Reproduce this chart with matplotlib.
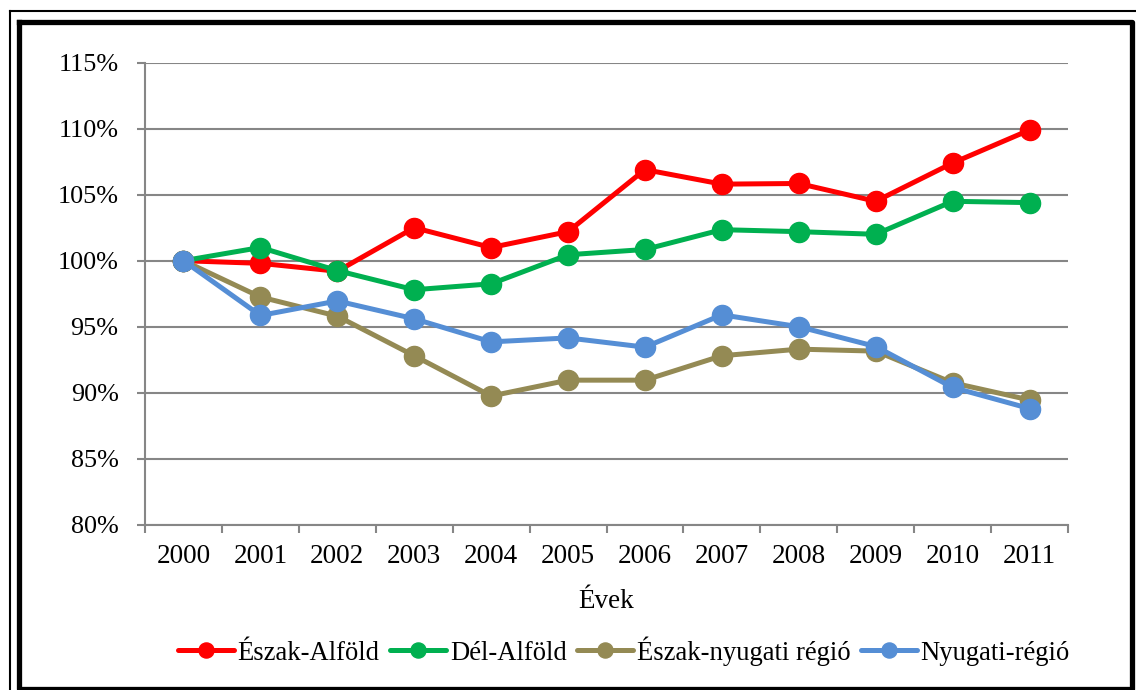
import matplotlib.pyplot as plt
from matplotlib.lines import Line2D
from matplotlib.ticker import FuncFormatter, MultipleLocator, FixedLocator

plt.rcParams['font.family'] = ['Liberation Serif', 'DejaVu Serif']

years = ['2000', '2001', '2002', '2003', '2004', '2005',
         '2006', '2007', '2008', '2009', '2010', '2011']
eszak_alfold = [100, 99.8, 99.2, 102.5, 101.0, 102.2, 106.9, 105.8, 105.85, 104.5, 107.4, 109.9]
del_alfold = [100, 101.0, 99.25, 97.8, 98.25, 100.45, 100.85, 102.35, 102.2, 102.0, 104.5, 104.4]
eszak_nyugati = [100, 97.25, 95.8, 92.8, 89.75, 90.95, 90.95, 92.8, 93.3, 93.15, 90.75, 89.45]
nyugati = [100, 95.85, 96.95, 95.6, 93.85, 94.15, 93.45, 95.9, 95.0, 93.5, 90.4, 88.8]

series = [
    ('Észak-Alföld', eszak_alfold, '#FF0000'),
    ('Dél-Alföld', del_alfold, '#00B050'),
    ('Észak-nyugati régió', eszak_nyugati, '#948A54'),
    ('Nyugati-régió', nyugati, '#558ED5'),
]

W, H = 1136, 690
FS = 19.5
fig = plt.figure(figsize=(W / 100, H / 100), dpi=100)
ax = fig.add_axes([145 / W, 1 - 524.7 / H, (1068 - 145) / W, (524.7 - 62.7) / H])

x = list(range(len(years)))
for name, vals, col in series:
    ax.plot(x, vals, color=col, lw=3.6, marker='o', ms=14.5, label=name,
            solid_capstyle='round', clip_on=False)

grid_col = '#868686'
ax.set_xlim(-0.5, len(years) - 0.5)
ax.set_ylim(80, 115)
ax.yaxis.set_major_locator(MultipleLocator(5))
ax.yaxis.set_major_formatter(FuncFormatter(lambda v, p: f'{v:.0f}%'))
ax.grid(axis='y', color=grid_col, lw=1.5)
ax.set_axisbelow(True)

ax.set_xticks(x)
ax.set_xticklabels(years)
ax.xaxis.set_minor_locator(FixedLocator([i - 0.5 for i in range(len(years) + 1)]))
ax.tick_params(axis='x', which='major', length=0, pad=14, labelsize=FS)
ax.tick_params(axis='x', which='minor', length=6, width=1.5, color=grid_col)
ax.tick_params(axis='y', length=6, width=1.5, color=grid_col, pad=13, labelsize=18.8)

for s in ['top', 'right']:
    ax.spines[s].set_visible(False)
for s in ['left', 'bottom']:
    ax.spines[s].set_color(grid_col)
    ax.spines[s].set_linewidth(1.5)

ax.set_xlabel('Évek', fontsize=FS, labelpad=14)

fig.legend(loc='center', bbox_to_anchor=(624 / W, 1 - 651 / H), ncol=4,
           frameon=False, fontsize=19.2, handlelength=2.1, handletextpad=0.13,
           columnspacing=0.4, markerscale=0.75)

# frames around the chart
def frame(x0, y0, x1, y1, lw):
    pts_x = [x0 / W, x1 / W, x1 / W, x0 / W, x0 / W]
    pts_y = [1 - y0 / H, 1 - y0 / H, 1 - y1 / H, 1 - y1 / H, 1 - y0 / H]
    fig.add_artist(Line2D(pts_x, pts_y, color='black', lw=lw, transform=fig.transFigure))

frame(9.5, 10.5, 1145, 700, 1.5)
frame(18.5, 21.5, 1131.5, 688.5, 3.8)

fig.savefig('out.png', dpi=100)
